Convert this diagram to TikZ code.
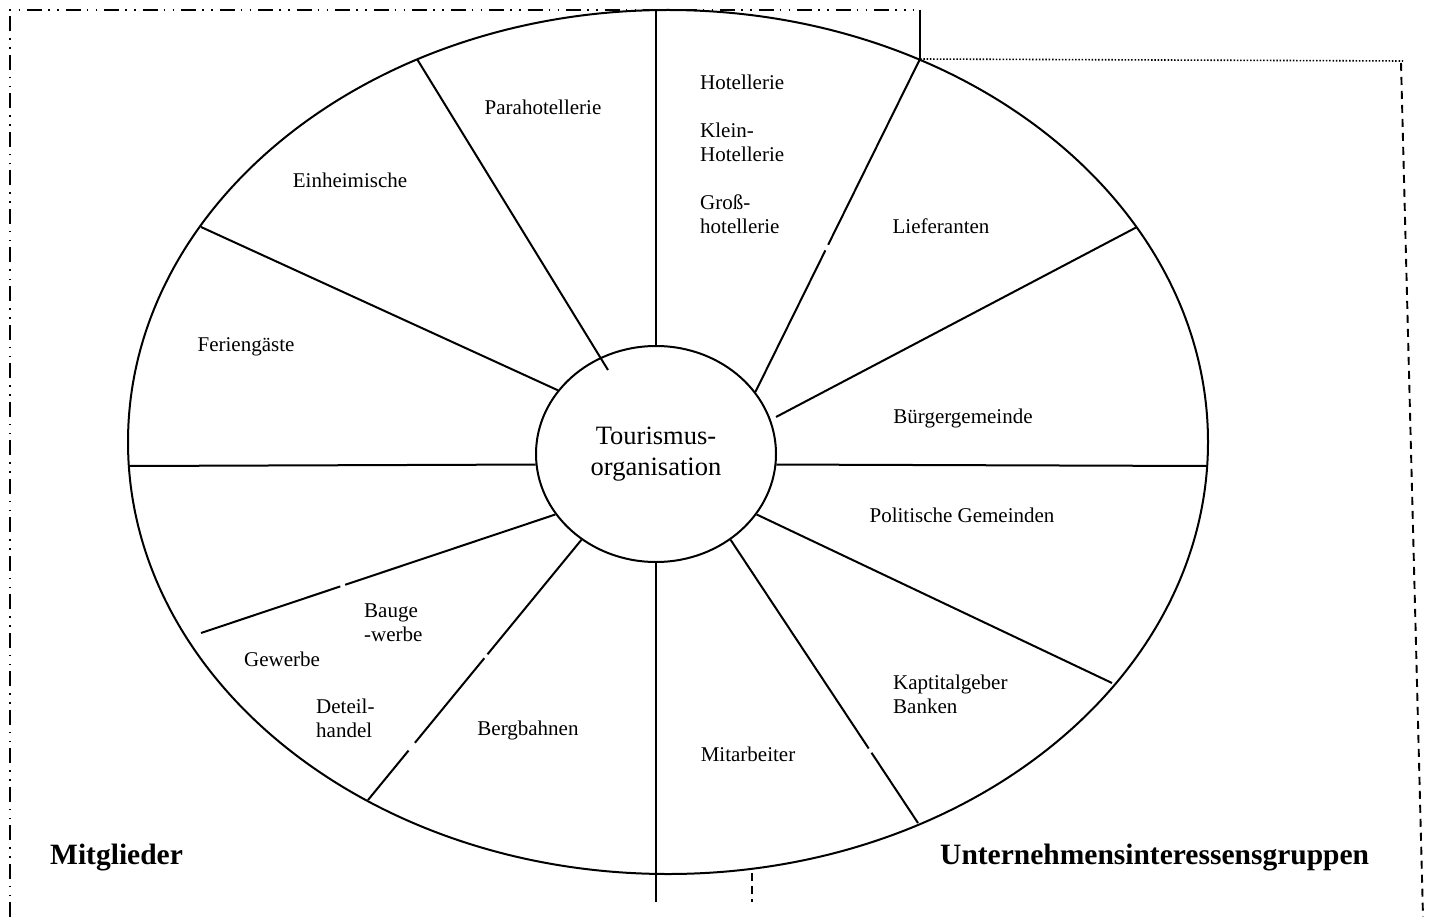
\documentclass[tikz,border=0pt]{standalone}
\usepackage{fontspec}
\setmainfont{Liberation Serif}
\usetikzlibrary{shapes.geometric,calc}
\begin{document}
\begin{tikzpicture}[x=1pt,y=-1pt,
  rim/.style={draw, ellipse, line width=2pt, inner sep=0pt},
  spoke/.style={line width=2pt},
  lbl/.style={font=\fontsize{21}{24}\selectfont, inner sep=0pt, align=left},
  grp/.style={font=\fontsize{29.5}{33}\selectfont\bfseries, inner sep=0pt, anchor=west},
  framedd/.style={line width=2pt, dash pattern=on 15pt off 6pt on 1.5pt off 7.5pt on 1.5pt off 7pt},
  framedot/.style={line width=1.6pt, dash pattern=on 1.5pt off 1.8pt},
  framedash/.style={line width=1.9pt, dash pattern=on 8pt off 6pt}]

\useasboundingbox (0,0) rectangle (1431,917);
\fill[white] (0,0) rectangle (1431,917);

% outer ring and hub
\node[rim, minimum width=1080pt, minimum height=864pt] (rim) at (668,442) {};
\node[rim, minimum width=240pt, minimum height=216pt,
      align=center, font=\fontsize{26.5}{31}\selectfont] (hub) at (656,454)
      {Tourismus-\\organisation};

% outer ends of the spokes
\coordinate (oN)   at (656,10);
\coordinate (oS)   at (656,902);
\coordinate (oW)   at (129,466);
\coordinate (oE)   at (1207,466);
\coordinate (oPara) at (417,59);
\coordinate (oEinh) at (201,227);
\coordinate (oLief) at (920,59);
\coordinate (oBuer) at (1137,227);
\coordinate (oPol)  at (1112,683);
\coordinate (oKap)  at (918,823);
\coordinate (oBerg) at (368,800);
\coordinate (oGew)  at (201,633);
% free inner ends
\coordinate (iPara) at (608,370);
\coordinate (iBuer) at (776,417);

% spokes
\draw[spoke] (hub.north) -- (oN);
\draw[spoke] (hub.south) -- (oS);
\draw[spoke] (hub.185.7) -- (oW);
\draw[spoke] (hub.-5.7) -- (oE);
\draw[spoke] (iPara) -- (oPara);
\draw[spoke] (hub.147.1) -- (oEinh);
\draw[spoke] (hub.32.6) -- ($(hub.32.6)!0.425!(oLief)$)
             ($(hub.32.6)!0.442!(oLief)$) -- (oLief);
\draw[spoke] (iBuer) -- (oBuer);
\draw[spoke] (hub.-31.6) -- (oPol);
\draw[spoke] (hub.-49) -- ($(hub.-49)!0.737!(oKap)$)
             ($(hub.-49)!0.752!(oKap)$) -- (oKap);
\draw[spoke] (hub.-131) -- ($(hub.-131)!0.44!(oBerg)$)
             ($(hub.-131)!0.455!(oBerg)$) -- ($(hub.-131)!0.78!(oBerg)$)
             ($(hub.-131)!0.81!(oBerg)$) -- (oBerg);
\draw[spoke] (hub.211.7) -- ($(hub.211.7)!0.593!(oGew)$)
             ($(hub.211.7)!0.607!(oGew)$) -- (oGew);

% frames around the two groups
\coordinate (fBL) at (10,917);
\coordinate (fTL) at (10,10);
\coordinate (fTR) at (913,10);
\coordinate (fTop) at (920,10);
\coordinate (fJoin) at (920,59);
\coordinate (fRT) at (1403,61);
\coordinate (fRS) at (1401,63);
\coordinate (fRB) at (1423,917);
\coordinate (fMT) at (752,873);
\coordinate (fMB) at (752,902);
\draw[framedd] (fBL) -- (fTL) -- (fTR);
\draw[line width=2pt] (fTop) -- (fJoin);
\draw[framedot] (fJoin) -- (fRT);
\draw[framedash] (fRS) -- (fRB);
\draw[framedash, dash pattern=on 8pt off 5pt] (fMT) -- (fMB);

% segment labels
\node[lbl] (para) at (543,107) {Parahotellerie};
\node[lbl] (einh) at (350,180) {Einheimische};
\node[lbl] (feri) at (246,347) {Feriengäste};
\node[lbl, anchor=west] (hot1) at (700,82) {Hotellerie};
\node[lbl, anchor=west] (hot2) at (700,142) {Klein-\\Hotellerie};
\node[lbl, anchor=west] (hot3) at (700,214) {Groß-\\hotellerie};
\node[lbl] (lief) at (941,226) {Lieferanten};
\node[lbl] (buer) at (963,418) {Bürgergemeinde};
\node[lbl] (pol)  at (962,515) {Politische Gemeinden};
\node[lbl, anchor=west] (kap) at (893,694.5) {Kaptitalgeber\\Banken};
\node[lbl] (mit)  at (748,754) {Mitarbeiter};
\node[lbl] (berg) at (528,730) {Bergbahnen};
\node[lbl] (gew)  at (282,659) {Gewerbe};
\node[lbl, anchor=west] (bau) at (364,622.5) {Bauge\\-werbe};
\node[lbl, anchor=west] (det) at (316,718.5) {Deteil-\\handel};

% group captions
\node[grp] (mitgl) at (50,858) {Mitglieder};
\node[grp] (unter) at (940,858) {Unternehmensinteressensgruppen};
\end{tikzpicture}
\end{document}
